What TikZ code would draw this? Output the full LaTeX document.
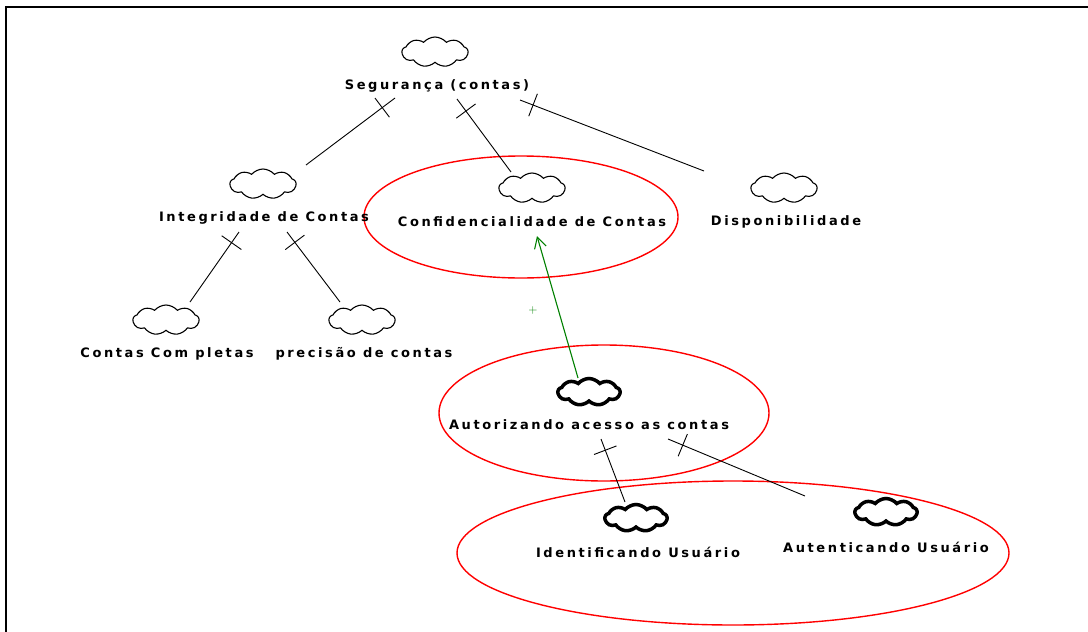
\documentclass[tikz,border=0pt]{standalone}
\usepackage{fontspec}
\usetikzlibrary{shapes.symbols,shapes.geometric,decorations.markings,arrows.meta}
\newfontfamily\lblfont{DejaVu Sans}[LetterSpace=20]
\definecolor{softgreen}{RGB}{0,128,0}
\tikzset{
  lbl/.style={font=\lblfont\bfseries\fontsize{13}{15}\selectfont, inner sep=0pt},
  goal/.style={cloud, cloud puffs=9, cloud puff arc=100, cloud ignores aspect, draw, line width=1.1pt,
               minimum width=66pt, minimum height=30pt, inner sep=0pt},
  heavy/.style={goal, line width=3.5pt, minimum width=62pt, minimum height=27pt},
  zone/.style={ellipse, draw=red, line width=1.4pt, inner sep=0pt},
  andlink/.style={draw, line width=0.9pt, postaction={decorate,
    decoration={markings, mark=at position #1 with {\draw[line width=0.9pt] (0,-12pt) -- (0,12pt);}}}},
  andlink/.default=14pt,
  help/.style={draw=softgreen, line width=1.1pt, -{Straight Barb[length=11pt,width=12pt]}}
}
\begin{document}
\begin{tikzpicture}[x=1pt,y=-1pt]
\useasboundingbox (0,0) rectangle (1088,632);
% page frame
\draw[line width=2.4pt] (6,632) -- (6,7) -- (1088,7);

% grouping ellipses
\node[zone, minimum width=314pt, minimum height=122pt] (zconf) at (521,217) {};
\node[zone, minimum width=330pt, minimum height=136pt] (zaut) at (604,413) {};
\node[zone, minimum width=552pt, minimum height=144pt] (zuser) at (733,553) {};

% goals
\node[goal] (segc) at (435,52) {};
\node[lbl] (seg) at (437,86) {Segurança (contas)};

\node[goal] (intc) at (263,184) {};
\node[lbl] (int) at (264,218) {Integridade de Contas};

\node[goal] (confc) at (532,188) {};
\node[lbl] (conf) at (532,222) {Confidencialidade de Contas};

\node[goal] (dispc) at (784,188) {};
\node[lbl] (disp) at (786,222) {Disponibilidade};

\node[goal] (compc) at (166,320) {};
\node[lbl] (comp) at (167,354) {Contas Com pletas};

\node[goal] (precc) at (362,320) {};
\node[lbl] (prec) at (364,354) {precisão de contas};

\node[heavy] (autc) at (589,392) {};
\node[lbl] (aut) at (589,425) {Autorizando acesso as contas};

\node[heavy] (idc) at (636,518) {};
\node[lbl] (id) at (638,552) {Identificando Usuário};

\node[heavy] (authc) at (886,512) {};
\node[lbl] (auth) at (886,547) {Autenticando Usuário};

% connector ends
\coordinate (seg-l) at (395,98);
\coordinate (seg-m) at (457,99);
\coordinate (seg-r) at (520,100);
\coordinate (int-top) at (306,165);
\coordinate (conf-top) at (511,172);
\coordinate (disp-top) at (704,171);
\coordinate (int-l) at (239,232);
\coordinate (int-r) at (287,232);
\coordinate (comp-top) at (190,302);
\coordinate (prec-top) at (340,302);
\coordinate (aut-l) at (601,439);
\coordinate (aut-r) at (668,439);
\coordinate (id-top) at (625,502);
\coordinate (auth-top) at (805,496);
\coordinate (aut-top) at (578,378);
\coordinate (conf-bot) at (537,236);

% decomposition links
\path[andlink=16pt] (seg-l) -- (int-top);
\path[andlink=15pt] (seg-m) -- (conf-top);
\path[andlink=14pt] (seg-r) -- (disp-top);
\path[andlink=13pt] (int-l) -- (comp-top);
\path[andlink=13pt] (int-r) -- (prec-top);
\path[andlink=12pt] (aut-l) -- (id-top);
\path[andlink=16pt] (aut-r) -- (auth-top);

% contribution link
\draw[help] (aut-top) -- (conf-bot);
\node[text=softgreen, font=\fontsize{12}{13}\selectfont, inner sep=0pt] (plus) at (533,311) {+};
\end{tikzpicture}
\end{document}
